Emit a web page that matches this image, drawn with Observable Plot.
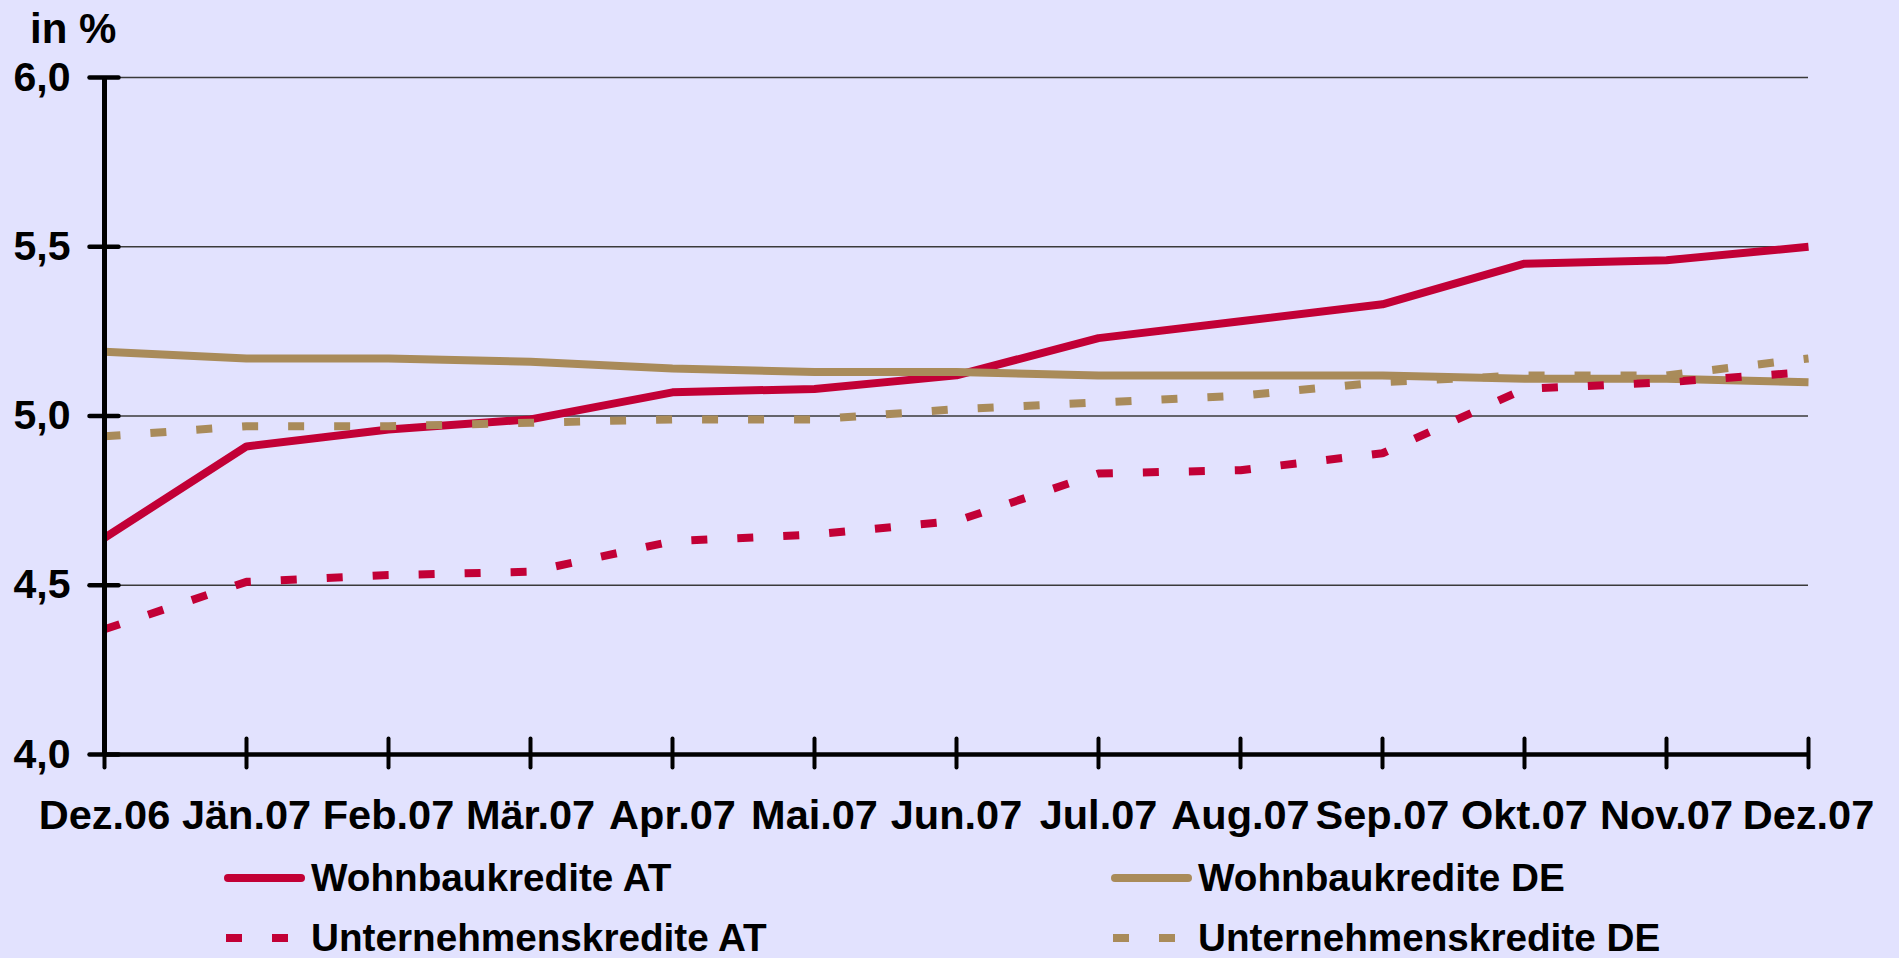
<!DOCTYPE html>
<html>
<head>
<meta charset="utf-8">
<script src="https://cdn.jsdelivr.net/npm/d3@7"></script>
<script src="https://cdn.jsdelivr.net/npm/@observablehq/plot@0.6"></script>
<style>
  html, body { margin: 0; padding: 0; background: #E2E2FE; }
  body { width: 1899px; height: 958px; position: relative; overflow: hidden;
         font-family: "Liberation Sans", Arial, sans-serif; font-weight: bold; color: #000; }
  #chart { position: absolute; left: 0; top: 0; }
  #unit { position: absolute; left: 30px; top: 8px; font-size: 42px; line-height: 1; }
  .leg { position: absolute; height: 40px; display: flex; align-items: center; font-size: 38.7px; white-space: nowrap; }
  .leg svg { display: block; }
  .leg span { margin-left: 3px; }
</style>
</head>
<body>
<div id="chart"></div>
<div id="unit">in %</div>
<div id="legend"></div>
<script>
const months = ["Dez.06","Jän.07","Feb.07","Mär.07","Apr.07","Mai.07","Jun.07","Jul.07","Aug.07","Sep.07","Okt.07","Nov.07","Dez.07"];
const wohnbauAT     = [4.64, 4.91, 4.96, 4.99, 5.07, 5.08, 5.12, 5.23, 5.28, 5.33, 5.45, 5.46, 5.50];
const wohnbauDE     = [5.19, 5.17, 5.17, 5.16, 5.14, 5.13, 5.13, 5.12, 5.12, 5.12, 5.11, 5.11, 5.10];
const unternehmenAT = [4.37, 4.51, 4.53, 4.54, 4.63, 4.65, 4.69, 4.83, 4.84, 4.89, 5.08, 5.10, 5.13];
const unternehmenDE = [4.94, 4.97, 4.97, 4.98, 4.99, 4.99, 5.02, 5.04, 5.06, 5.10, 5.12, 5.12, 5.17];
const yTicks = [4.0, 4.5, 5.0, 5.5, 6.0];
const seriesNames = ["Wohnbaukredite AT", "Wohnbaukredite DE", "Unternehmenskredite AT", "Unternehmenskredite DE"];

const RED = "#C20036", TAN = "#A98B5A";
const series = [
  {name: seriesNames[0], values: wohnbauAT, color: RED, dash: null},
  {name: seriesNames[1], values: wohnbauDE, color: TAN, dash: null},
  {name: seriesNames[2], values: unternehmenAT, color: RED, dash: "16 30"},
  {name: seriesNames[3], values: unternehmenDE, color: TAN, dash: "16 30"}
];
const rows = s => months.map((m, i) => ({month: m, value: s.values[i]}));

const hTick = {draw(ctx) { ctx.moveTo(-15, 0); ctx.lineTo(14, 0); }};
const vTick = {draw(ctx) { ctx.moveTo(0, -16); ctx.lineTo(0, 13); }};

const fmt = d => d.toFixed(1).replace(".", ",");

const plot = Plot.plot({
  width: 1899,
  height: 854,
  marginTop: 77,
  marginBottom: 100,
  marginLeft: 103,
  marginRight: 91,
  style: {background: "transparent", fontFamily: "'Liberation Sans', Arial, sans-serif", overflow: "visible"},
  x: {type: "point", domain: months, padding: 0},
  y: {domain: [4, 6]},
  marks: [
    Plot.ruleY(yTicks.filter(t => t > 4), {stroke: "#3a3a3a", strokeWidth: 1.6}),
    ...series.map(s => Plot.line(rows(s), {
      x: "month", y: "value", stroke: s.color, strokeWidth: 8,
      strokeDasharray: s.dash, strokeLinecap: "butt", strokeLinejoin: "miter"
    })),
    Plot.ruleY([4], {stroke: "black", strokeWidth: 4.5}),
    Plot.ruleX([months[0]], {stroke: "black", strokeWidth: 5}),
    Plot.dot(months, {x: d => d, y: () => 4, symbol: vTick, fill: "none", stroke: "black", strokeWidth: 4, strokeLinecap: "round"}),
    Plot.dot(yTicks, {x: () => months[0], y: d => d, symbol: hTick, fill: "none", stroke: "black", strokeWidth: 4.5, strokeLinecap: "round"}),
    Plot.axisX({tickSize: 0, tickPadding: 45, fontSize: 41.5, fontWeight: "bold", fill: "black", label: null}),
    Plot.axisY({ticks: yTicks, tickFormat: fmt, tickSize: 0, tickPadding: 33, fontSize: 41, fontWeight: "bold", fill: "black", label: null})
  ]
});
document.getElementById("chart").appendChild(plot);

// Legend (HTML, below the plot area)
const legendPos = [
  {left: 224, top: 858},
  {left: 1111, top: 858},
  {left: 224, top: 918},
  {left: 1111, top: 918}
];
const legend = document.getElementById("legend");
series.forEach((s, i) => {
  const p = legendPos[i];
  const div = document.createElement("div");
  div.className = "leg";
  div.style.left = p.left + "px";
  div.style.top = p.top + "px";
  const line = s.dash
    ? `<line x1="2" x2="64" y1="20" y2="20" stroke="${s.color}" stroke-width="8" stroke-dasharray="${s.dash}"/>`
    : `<line x1="4" x2="77" y1="20" y2="20" stroke="${s.color}" stroke-width="8" stroke-linecap="round"/>`;
  div.innerHTML = `<svg width="84" height="40">${line}</svg><span>${s.name}</span>`;
  legend.appendChild(div);
});
</script>
</body>
</html>
